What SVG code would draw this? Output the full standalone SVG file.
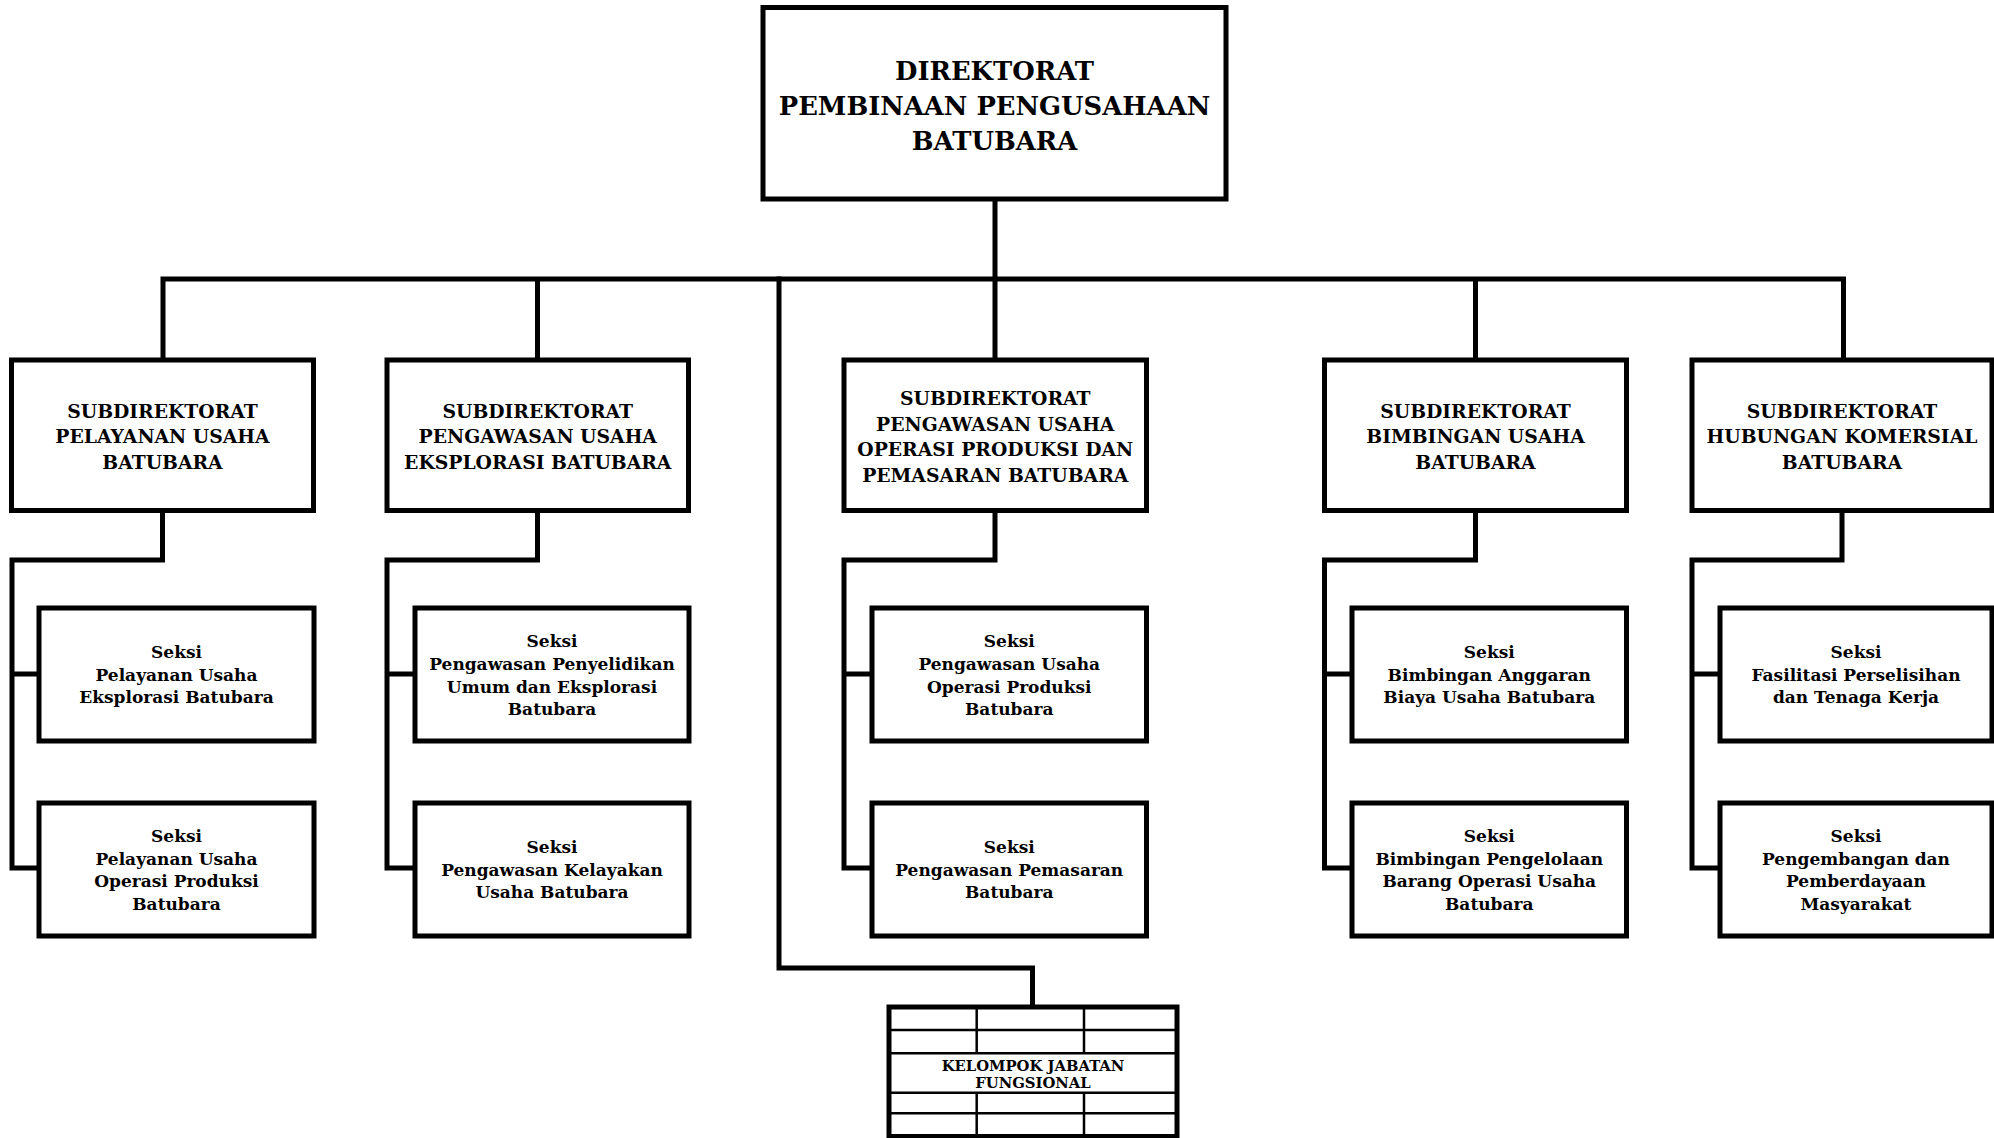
<svg xmlns="http://www.w3.org/2000/svg" width="1994" height="1138" viewBox="0 0 1994 1138">
<style>
.box{fill:#fff;stroke:#000;stroke-width:5}
.ln{fill:none;stroke:#000;stroke-width:5;stroke-linejoin:miter;stroke-linecap:square}
.thin{fill:none;stroke:#000;stroke-width:2.5}
text{font-family:"DejaVu Serif","Liberation Serif",serif;font-weight:bold;fill:#000;text-anchor:middle}
.t0{font-size:25.8px}
.t1{font-size:18.8px}
.t2{font-size:17px}
.t3{font-size:14.8px}
</style>
<rect width="1994" height="1138" fill="#fff"/>
<g id="connectors">
<path class="ln" d="M995 199V360M163 360V279H1843.5V360M537.5 279V360M1475.5 279V360"/>
<path class="ln" d="M779 279V968H1032.5V1007"/>
<path class="ln" d="M162.5 510V560H12V868H39M12 674H39"/>
<path class="ln" d="M537.5 510V560H387V868H415M387 674H415"/>
<path class="ln" d="M995 510V560H844V868H872M844 674H872"/>
<path class="ln" d="M1475.5 510V560H1324.5V868H1352M1324.5 674H1352"/>
<path class="ln" d="M1842 510V560H1692V868H1720M1692 674H1720"/>
</g>
<g id="direktorat">
<rect class="box" x="763" y="7.5" width="463" height="191.5"/>
<text class="t0" x="994.5" y="79.5">DIREKTORAT</text>
<text class="t0" x="994.5" y="114.5">PEMBINAAN PENGUSAHAAN</text>
<text class="t0" x="994.5" y="149.5">BATUBARA</text>
</g>
<g id="sub1">
<rect class="box" x="11.5" y="360" width="302" height="150.5"/>
<text class="t1" x="162.5" y="417.5">SUBDIREKTORAT</text>
<text class="t1" x="162.5" y="443">PELAYANAN USAHA</text>
<text class="t1" x="162.5" y="468.5">BATUBARA</text>
</g>
<g id="sub2">
<rect class="box" x="387" y="360" width="301.5" height="150.5"/>
<text class="t1" x="537.75" y="417.5">SUBDIREKTORAT</text>
<text class="t1" x="537.75" y="443">PENGAWASAN USAHA</text>
<text class="t1" x="537.75" y="468.5">EKSPLORASI BATUBARA</text>
</g>
<g id="sub3">
<rect class="box" x="844" y="360" width="302.5" height="150.5"/>
<text class="t1" x="995.25" y="405">SUBDIREKTORAT</text>
<text class="t1" x="995.25" y="430.5">PENGAWASAN USAHA</text>
<text class="t1" x="995.25" y="456">OPERASI PRODUKSI DAN</text>
<text class="t1" x="995.25" y="481.5">PEMASARAN BATUBARA</text>
</g>
<g id="sub4">
<rect class="box" x="1324.5" y="360" width="302" height="150.5"/>
<text class="t1" x="1475.5" y="417.5">SUBDIREKTORAT</text>
<text class="t1" x="1475.5" y="443">BIMBINGAN USAHA</text>
<text class="t1" x="1475.5" y="468.5">BATUBARA</text>
</g>
<g id="sub5">
<rect class="box" x="1692" y="360" width="300" height="150.5"/>
<text class="t1" x="1842" y="417.5">SUBDIREKTORAT</text>
<text class="t1" x="1842" y="443">HUBUNGAN KOMERSIAL</text>
<text class="t1" x="1842" y="468.5">BATUBARA</text>
</g>
<g id="seksi1a">
<rect class="box" x="39" y="608" width="275" height="133"/>
<text class="t2" x="176.5" y="658.3">Seksi</text>
<text class="t2" x="176.5" y="680.8">Pelayanan Usaha</text>
<text class="t2" x="176.5" y="703.3">Eksplorasi Batubara</text>
</g>
<g id="seksi1b">
<rect class="box" x="39" y="803" width="275" height="133"/>
<text class="t2" x="176.5" y="842">Seksi</text>
<text class="t2" x="176.5" y="864.5">Pelayanan Usaha</text>
<text class="t2" x="176.5" y="887">Operasi Produksi</text>
<text class="t2" x="176.5" y="909.5">Batubara</text>
</g>
<g id="seksi2a">
<rect class="box" x="415" y="608" width="274" height="133"/>
<text class="t2" x="552" y="647.3">Seksi</text>
<text class="t2" x="552" y="670">Pengawasan Penyelidikan</text>
<text class="t2" x="552" y="692.5">Umum dan Eksplorasi</text>
<text class="t2" x="552" y="715">Batubara</text>
</g>
<g id="seksi2b">
<rect class="box" x="415" y="803" width="274" height="133"/>
<text class="t2" x="552" y="853.3">Seksi</text>
<text class="t2" x="552" y="875.8">Pengawasan Kelayakan</text>
<text class="t2" x="552" y="898.3">Usaha Batubara</text>
</g>
<g id="seksi3a">
<rect class="box" x="872" y="608" width="274.5" height="133"/>
<text class="t2" x="1009.25" y="647.3">Seksi</text>
<text class="t2" x="1009.25" y="670">Pengawasan Usaha</text>
<text class="t2" x="1009.25" y="692.5">Operasi Produksi</text>
<text class="t2" x="1009.25" y="715">Batubara</text>
</g>
<g id="seksi3b">
<rect class="box" x="872" y="803" width="274.5" height="133"/>
<text class="t2" x="1009.25" y="853.3">Seksi</text>
<text class="t2" x="1009.25" y="875.8">Pengawasan Pemasaran</text>
<text class="t2" x="1009.25" y="898.3">Batubara</text>
</g>
<g id="seksi4a">
<rect class="box" x="1352" y="608" width="274.5" height="133"/>
<text class="t2" x="1489.25" y="658.3">Seksi</text>
<text class="t2" x="1489.25" y="680.8">Bimbingan Anggaran</text>
<text class="t2" x="1489.25" y="703.3">Biaya Usaha Batubara</text>
</g>
<g id="seksi4b">
<rect class="box" x="1352" y="803" width="274.5" height="133"/>
<text class="t2" x="1489.25" y="842">Seksi</text>
<text class="t2" x="1489.25" y="864.5">Bimbingan Pengelolaan</text>
<text class="t2" x="1489.25" y="887">Barang Operasi Usaha</text>
<text class="t2" x="1489.25" y="909.5">Batubara</text>
</g>
<g id="seksi5a">
<rect class="box" x="1720" y="608" width="272" height="133"/>
<text class="t2" x="1856" y="658.3">Seksi</text>
<text class="t2" x="1856" y="680.8">Fasilitasi Perselisihan</text>
<text class="t2" x="1856" y="703.3">dan Tenaga Kerja</text>
</g>
<g id="seksi5b">
<rect class="box" x="1720" y="803" width="272" height="133"/>
<text class="t2" x="1856" y="842">Seksi</text>
<text class="t2" x="1856" y="864.5">Pengembangan dan</text>
<text class="t2" x="1856" y="887">Pemberdayaan</text>
<text class="t2" x="1856" y="909.5">Masyarakat</text>
</g>
<g id="kelompok">
<rect class="box" x="889" y="1007" width="288" height="129.5"/>
<path class="thin" d="M889 1030H1177M889 1053.3H1177M889 1092.7H1177M889 1113.3H1177M976.7 1007V1053.3M1084 1007V1053.3M976.7 1092.7V1136.5M1084 1092.7V1136.5"/>
<text class="t3" x="1033" y="1070.7">KELOMPOK JABATAN</text>
<text class="t3" x="1033" y="1088.3">FUNGSIONAL</text>
</g>
</svg>
